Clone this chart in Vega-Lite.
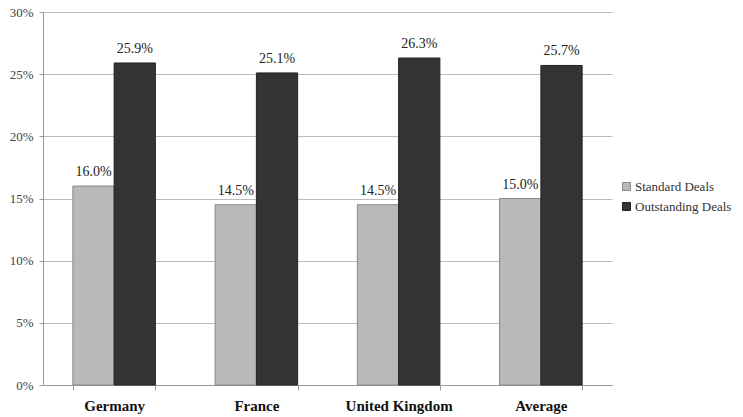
{
  "$schema": "https://vega.github.io/schema/vega-lite/v6.json",
  "width": 569,
  "height": 373,
  "autosize": {"type": "none"},
  "padding": {"left": 43, "top": 12, "right": 131, "bottom": 32},
  "background": "white",
  "config": {
    "view": {"stroke": null},
    "font": "Liberation Serif"
  },
  "data": {
    "values": [
      {"country": "Germany", "series": "Standard Deals", "value": 0.160},
      {"country": "Germany", "series": "Outstanding Deals", "value": 0.259},
      {"country": "France", "series": "Standard Deals", "value": 0.145},
      {"country": "France", "series": "Outstanding Deals", "value": 0.251},
      {"country": "United Kingdom", "series": "Standard Deals", "value": 0.145},
      {"country": "United Kingdom", "series": "Outstanding Deals", "value": 0.263},
      {"country": "Average", "series": "Standard Deals", "value": 0.150},
      {"country": "Average", "series": "Outstanding Deals", "value": 0.257}
    ]
  },
  "encoding": {
    "x": {
      "field": "country",
      "type": "nominal",
      "sort": ["Germany", "France", "United Kingdom", "Average"],
      "scale": {"paddingInner": 0.42, "paddingOuter": 0.21},
      "axis": {
        "title": null,
        "labelAngle": 0,
        "labelFont": "Liberation Serif",
        "labelFontSize": 15,
        "labelFontWeight": "bold",
        "labelColor": "#111",
        "labelPadding": 8,
        "domainColor": "#999",
        "tickColor": "#999",
        "tickSize": 5,
        "tickBand": "extent",
        "grid": false
      }
    },
    "xOffset": {
      "field": "series",
      "type": "nominal",
      "sort": ["Standard Deals", "Outstanding Deals"]
    },
    "y": {
      "field": "value",
      "type": "quantitative",
      "scale": {"domain": [0, 0.3], "nice": false},
      "axis": {
        "title": null,
        "format": ".0%",
        "values": [0, 0.05, 0.1, 0.15, 0.2, 0.25, 0.3],
        "labelFont": "Liberation Serif",
        "labelFontSize": 13,
        "labelColor": "#444",
        "labelPadding": 6,
        "domainColor": "#999",
        "tickColor": "#999",
        "tickSize": 4,
        "gridColor": "#bbb",
        "grid": true
      }
    }
  },
  "layer": [
    {
      "mark": {"type": "bar", "strokeWidth": 1},
      "encoding": {
        "color": {
          "field": "series",
          "type": "nominal",
          "sort": ["Standard Deals", "Outstanding Deals"],
          "scale": {"domain": ["Standard Deals", "Outstanding Deals"], "range": ["#b9b9b9", "#343434"]},
          "legend": {
            "title": null,
            "orient": "none",
            "legendX": 577,
            "legendY": 168,
            "symbolType": "square",
            "symbolSize": 64,
            "symbolStrokeColor": "#555",
            "symbolStrokeWidth": 1,
            "labelFont": "Liberation Serif",
            "labelFontSize": 13,
            "labelColor": "#333",
            "rowPadding": 6,
            "labelOffset": 2
          }
        },
        "stroke": {
          "field": "series",
          "type": "nominal",
          "scale": {"domain": ["Standard Deals", "Outstanding Deals"], "range": ["#888", "#222"]},
          "legend": null
        }
      }
    },
    {
      "mark": {"type": "text", "baseline": "bottom", "dy": -7, "fontSize": 14, "font": "Liberation Serif", "color": "#222"},
      "encoding": {
        "text": {"field": "value", "type": "quantitative", "format": ".1%"}
      }
    }
  ]
}
